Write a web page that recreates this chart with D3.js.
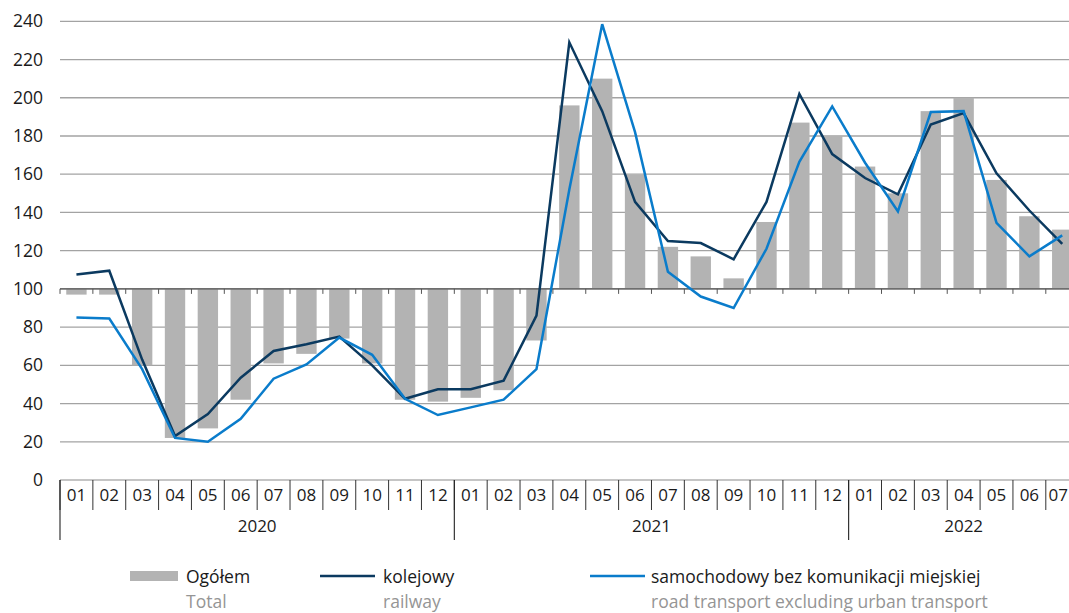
<!DOCTYPE html>
<html>
<head>
<meta charset="utf-8">
<script src="https://cdn.jsdelivr.net/npm/d3@7"></script>
<style>
html,body{margin:0;padding:0;background:#fff;overflow:hidden;}
svg{display:block;font-family:"Open Sans","Noto Sans",sans-serif;}
</style>
</head>
<body>
<svg id="chart" width="1069" height="613"></svg>
<script>
const months = ["01","02","03","04","05","06","07","08","09","10","11","12",
                "01","02","03","04","05","06","07","08","09","10","11","12",
                "01","02","03","04","05","06","07"];
const yearLabels = ["2020","2021","2022"];
const yearCounts = [12,12,7];
const total   = [97,97,60,22,27,42,61,66,74,61,42,41,
                 43,47,73,196,210,160,122,117,105.5,135,187,180,
                 164,150,193,200,157,138,131];
const railway = [107.5,109.5,63,23,34.5,53.5,67.5,71,75,60,42.5,47.5,
                 47.5,52,86,229,193,145.5,125,124,115.5,145.5,202,170.5,
                 158,149.5,186,192,160.5,141,123.5];
const road    = [85,84.5,58,22,20,32,53,60.5,74.5,65.5,42.5,34,
                 38,42,58,152,238.5,182,109,96,90,121,166.5,195.5,
                 166,140.5,192.5,193,134.5,117,128];
const yTicks = [0,20,40,60,80,100,120,140,160,180,200,220,240];
const legendMain = ["Ogółem","kolejowy","samochodowy bez komunikacji miejskiej"];
const legendSub  = ["Total","railway","road transport excluding urban transport"];

const W = 1069;
const svg = d3.select("#chart");
const plotLeft = 60, step = 32.86, plotTop = 21.3, plotBottom = 480;
const idx = d3.range(months.length);
const x = d3.scaleBand().domain(idx).range([plotLeft, plotLeft + step*months.length]).padding(0);
const y = d3.scaleLinear().domain([0,240]).range([plotBottom, plotTop]);
const cx = i => x(i) + x.bandwidth()/2;

const cBar = "#b3b3b3", cRail = "#0b3a60", cRoad = "#0a7ccb", cGrid = "#a3a3a3";

// gridlines
svg.append("g").selectAll("line").data(yTicks.filter(t => t>0 && t!==100)).join("line")
  .attr("x1", plotLeft).attr("x2", W)
  .attr("y1", d => y(d)).attr("y2", d => y(d))
  .attr("stroke", cGrid).attr("stroke-width", 1.3);

// y labels
svg.append("g").selectAll("text").data(yTicks).join("text")
  .attr("x", 43).attr("y", d => y(d)).attr("dy", "0.35em")
  .attr("text-anchor", "end").attr("font-size", 17.5).attr("fill", "#1a1a1a")
  .text(d => d);

// bars from 100 baseline
const bw = x.bandwidth()*0.62;
svg.append("g").selectAll("rect").data(idx).join("rect")
  .attr("x", i => cx(i) - bw/2)
  .attr("y", i => y(Math.max(total[i],100)))
  .attr("width", bw)
  .attr("height", i => Math.abs(y(total[i]) - y(100)))
  .attr("fill", cBar);

// baseline at 100 with ticks
svg.append("line").attr("x1", plotLeft).attr("x2", W)
  .attr("y1", y(100)).attr("y2", y(100))
  .attr("stroke", "#6e6e6e").attr("stroke-width", 1.8);
svg.append("g").selectAll("line").data(d3.range(months.length+1)).join("line")
  .attr("x1", i => plotLeft + i*step).attr("x2", i => plotLeft + i*step)
  .attr("y1", y(100)).attr("y2", y(100)+5)
  .attr("stroke", "#555").attr("stroke-width", 1);

// lines
const lineGen = arr => d3.line().x((d,i) => cx(i)).y(d => y(d))(arr);
svg.append("path").attr("d", lineGen(railway)).attr("fill","none")
  .attr("stroke", cRail).attr("stroke-width", 2.5).attr("stroke-linejoin","miter");
svg.append("path").attr("d", lineGen(road)).attr("fill","none")
  .attr("stroke", cRoad).attr("stroke-width", 2.5).attr("stroke-linejoin","miter");

// category axis box
svg.append("line").attr("x1", plotLeft).attr("x2", W).attr("y1", plotBottom).attr("y2", plotBottom)
  .attr("stroke", "#8c8c8c").attr("stroke-width", 1.2);
svg.append("g").selectAll("line").data(d3.range(months.length+1)).join("line")
  .attr("x1", i => plotLeft + i*step).attr("x2", i => plotLeft + i*step)
  .attr("y1", plotBottom).attr("y2", 510)
  .attr("stroke", "#333").attr("stroke-width", 1);
const monthText = svg.append("g").selectAll("text").data(idx).join("text")
  .attr("x", i => cx(i)).attr("y", 501)
  .attr("text-anchor", "middle").attr("font-size", 17).attr("fill", "#1a1a1a")
  .text(i => months[i]);
// keep the last (edge) label inside the page
monthText.each(function() {
  const b = this.getBBox();
  if (b.x + b.width > W - 1) {
    d3.select(this).attr("text-anchor", "end").attr("x", W - 1);
  }
});

// year groups
let start = 0;
const yearBounds = yearCounts.map(n => { const s = start; start += n; return [s, start]; });
svg.append("g").selectAll("line").data(yearBounds.map(b => b[0]).concat([start])).join("line")
  .attr("x1", i => plotLeft + i*step).attr("x2", i => plotLeft + i*step)
  .attr("y1", plotBottom).attr("y2", 540)
  .attr("stroke", "#222").attr("stroke-width", 1.1);
svg.append("g").selectAll("text").data(yearBounds).join("text")
  .attr("x", b => plotLeft + (b[0]+b[1])/2*step).attr("y", 532)
  .attr("text-anchor", "middle").attr("font-size", 17).attr("fill", "#1a1a1a")
  .text((b,i) => yearLabels[i]);

// legend
const lg = svg.append("g");
const lx = [130, 320, 590];
lg.append("rect").attr("x", lx[0]).attr("y", 571).attr("width", 48).attr("height", 10).attr("fill", cBar);
lg.append("line").attr("x1", lx[1]).attr("x2", lx[1]+55).attr("y1", 576).attr("y2", 576)
  .attr("stroke", cRail).attr("stroke-width", 2.5);
lg.append("line").attr("x1", lx[2]).attr("x2", lx[2]+55).attr("y1", 576).attr("y2", 576)
  .attr("stroke", cRoad).attr("stroke-width", 2.5);
const tx = [186, 383, 651];
lg.selectAll("text.m").data(legendMain).join("text").attr("class","m")
  .attr("x", (d,i) => tx[i]).attr("y", 583).attr("font-size", 17.5).attr("fill", "#1a1a1a")
  .text(d => d);
lg.selectAll("text.s").data(legendSub).join("text").attr("class","s")
  .attr("x", (d,i) => tx[i]).attr("y", 608).attr("font-size", 17.5).attr("fill", "#959595")
  .text(d => d);
</script>
</body>
</html>
